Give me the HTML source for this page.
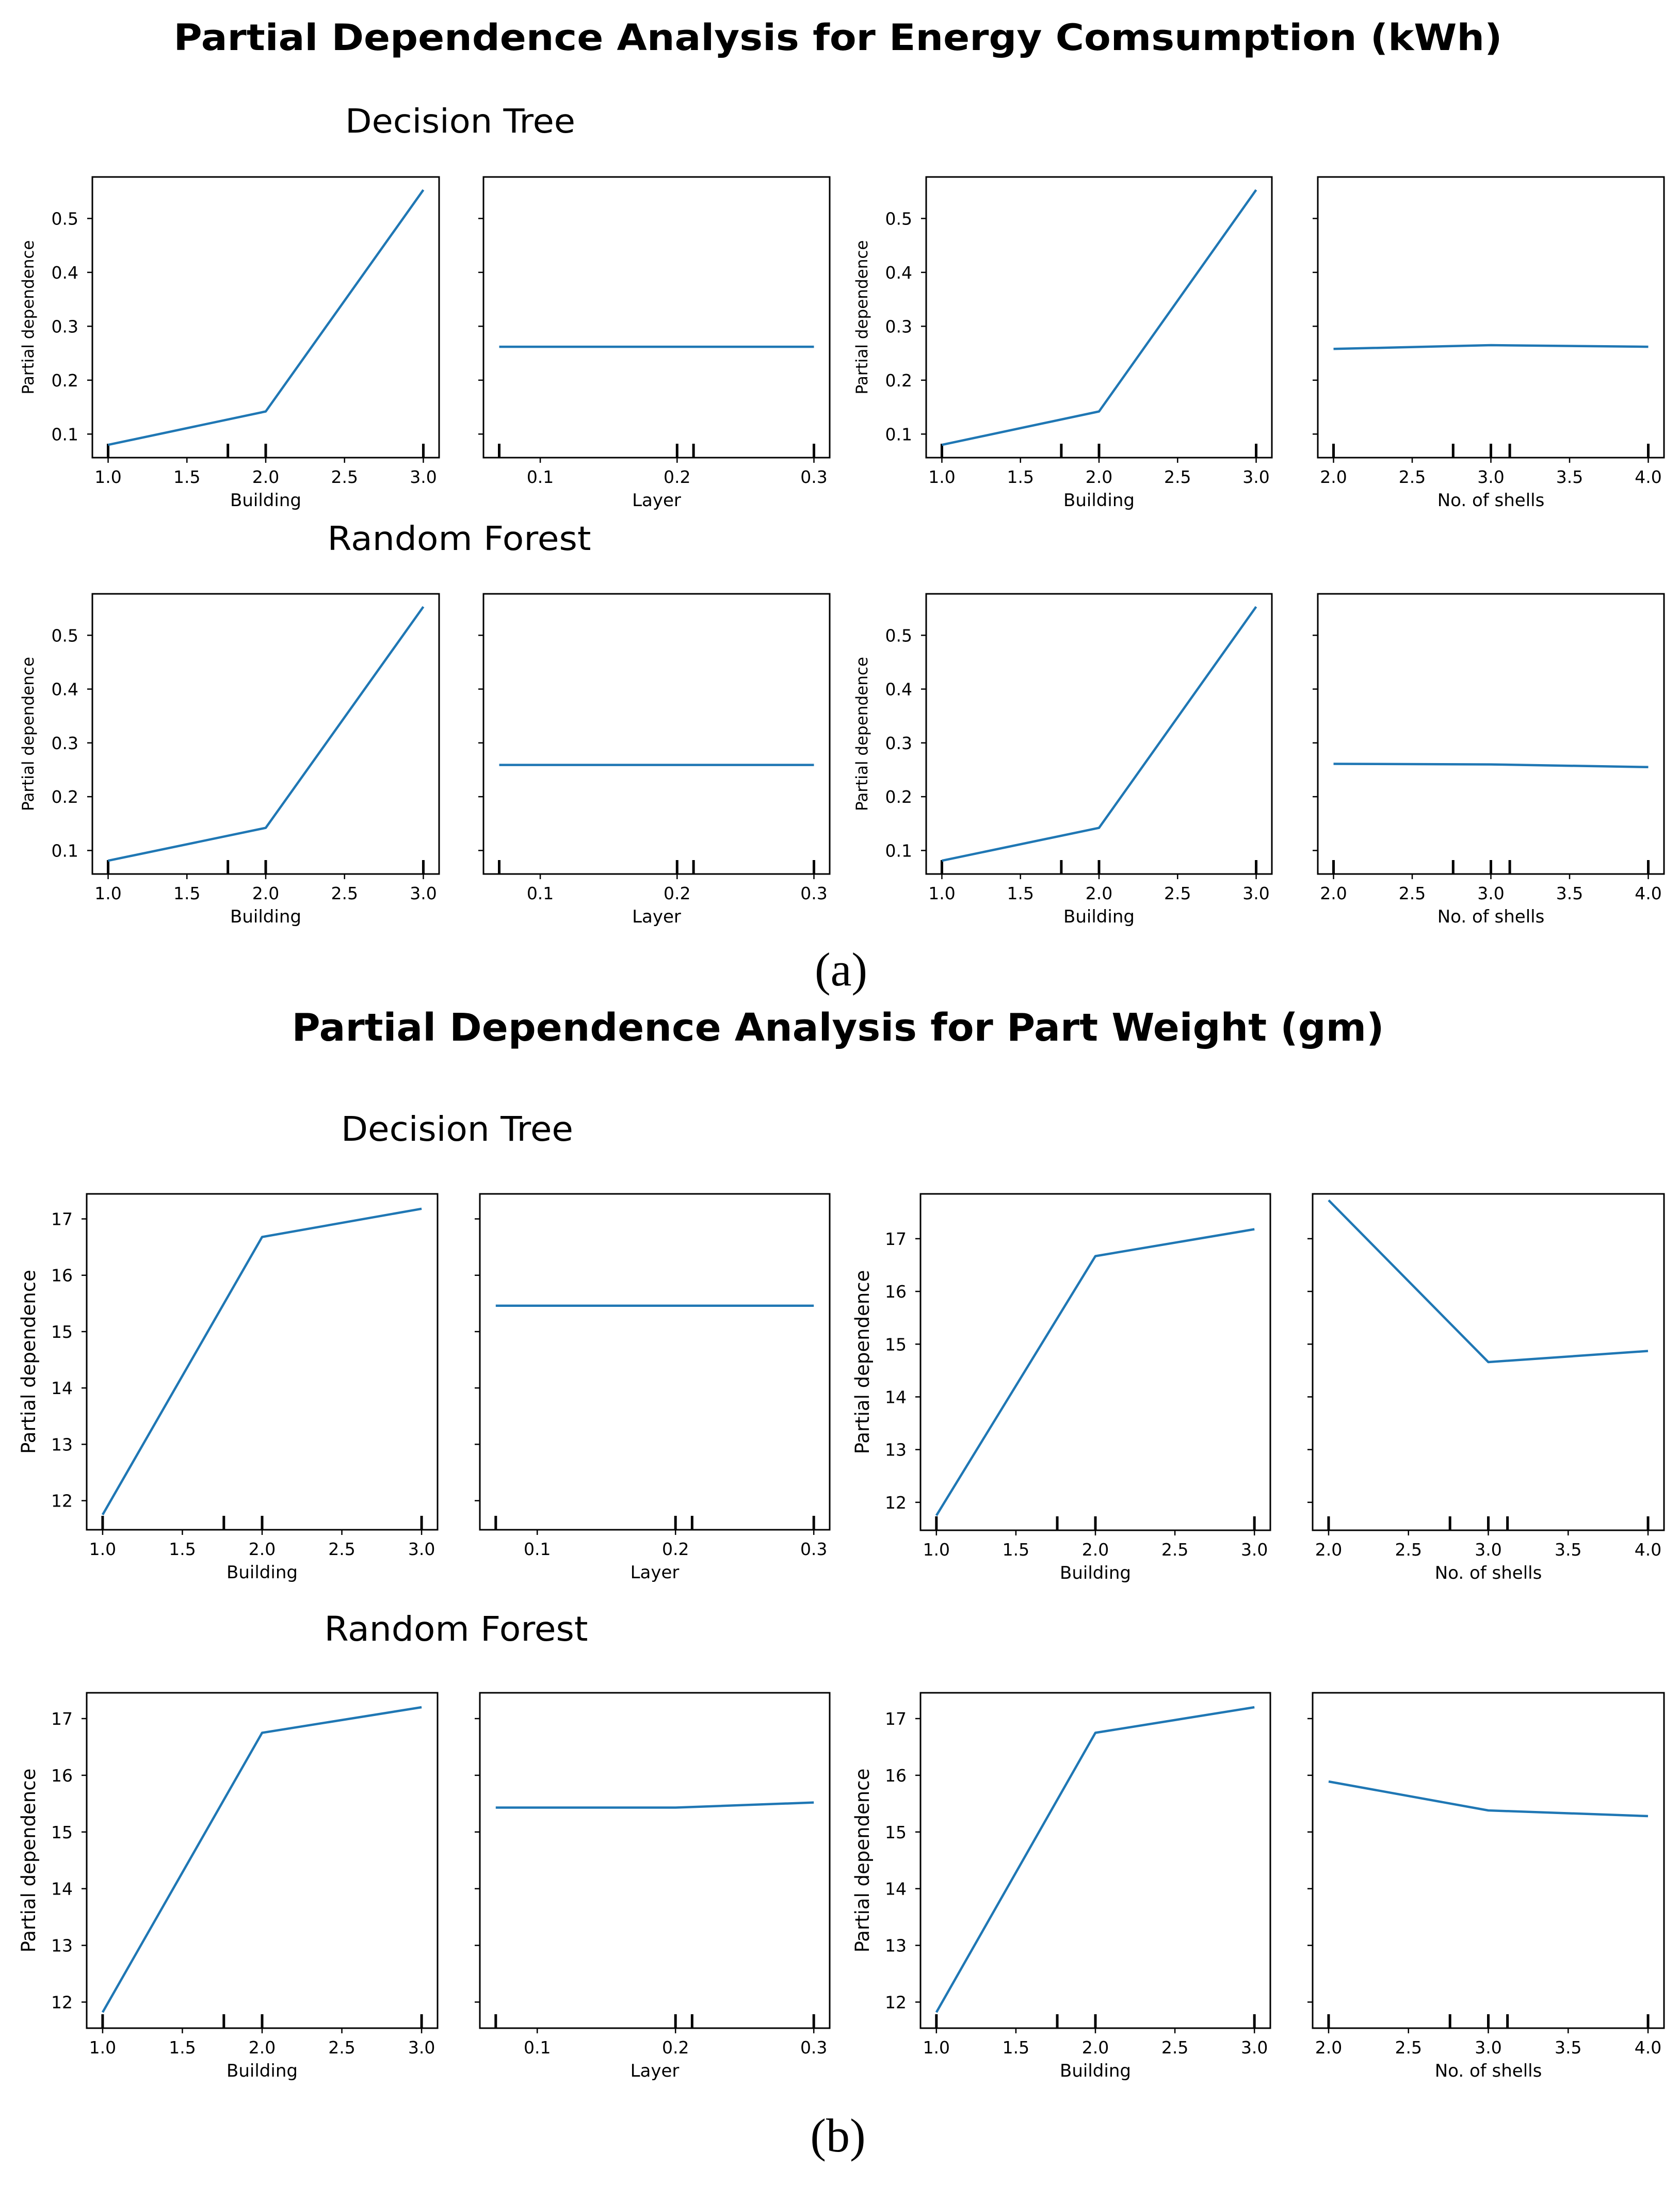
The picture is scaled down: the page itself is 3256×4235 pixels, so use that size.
<!DOCTYPE html>
<html><head><meta charset="utf-8"><style>
html,body{margin:0;padding:0;background:#fff;}
svg{display:block;}
text{font-family:"DejaVu Sans","Liberation Sans",sans-serif;fill:#000;}
</style></head><body>
<svg id="fig" width="3256" height="4235" viewBox="0 0 3256 4235" xmlns="http://www.w3.org/2000/svg">
<rect width="3256" height="4235" fill="#fff"/>
<text x="1624" y="97" font-size="70" font-weight="bold" text-anchor="middle" textLength="2575" lengthAdjust="spacingAndGlyphs">Partial Dependence Analysis for Energy Comsumption (kWh)</text>
<text x="892" y="257" font-size="64" text-anchor="middle" textLength="446" lengthAdjust="spacingAndGlyphs">Decision Tree</text>
<text x="890" y="1066" font-size="64" text-anchor="middle" textLength="511" lengthAdjust="spacingAndGlyphs">Random Forest</text>
<text x="1630" y="1910" font-size="92" text-anchor="middle" style="font-family:'Liberation Serif',serif">(a)</text>
<text x="1624" y="2017" font-size="74" font-weight="bold" text-anchor="middle" textLength="2117" lengthAdjust="spacingAndGlyphs">Partial Dependence Analysis for Part Weight (gm)</text>
<text x="886" y="2211" font-size="66" text-anchor="middle" textLength="450" lengthAdjust="spacingAndGlyphs">Decision Tree</text>
<text x="884" y="3180" font-size="66" text-anchor="middle" textLength="511" lengthAdjust="spacingAndGlyphs">Random Forest</text>
<text x="1624" y="4170" font-size="92" text-anchor="middle" style="font-family:'Liberation Serif',serif">(b)</text>
<g id="plots"></g>
</svg>
<script>
// ---- data ----
const buildingGrid = [1, 2, 3];
const layerGrid = [0.07, 0.2, 0.3];
const shellsGrid = [2, 3, 4];
const buildingDeciles = [1, 1.76, 2, 3];
const layerDeciles = [0.07, 0.2, 0.212, 0.3];
const shellsDeciles = [2, 2.76, 3, 3.12, 4];
const buildingTicks = [1, 1.5, 2, 2.5, 3];
const buildingTickLabels = ["1.0","1.5","2.0","2.5","3.0"];
const layerTicks = [0.1, 0.2, 0.3];
const layerTickLabels = ["0.1","0.2","0.3"];
const shellsTicks = [2, 2.5, 3, 3.5, 4];
const shellsTickLabels = ["2.0","2.5","3.0","3.5","4.0"];
const energyTicks = [0.1, 0.2, 0.3, 0.4, 0.5];
const energyTickLabels = ["0.1","0.2","0.3","0.4","0.5"];
const weightTicks = [12, 13, 14, 15, 16, 17];
const weightTickLabels = ["12","13","14","15","16","17"];

const energyDtBuilding = [0.080, 0.142, 0.553];
const energyDtLayer = [0.262, 0.262, 0.262];
const energyDtBuilding2 = [0.080, 0.142, 0.553];
const energyDtShells = [0.258, 0.265, 0.262];
const energyRfBuilding = [0.081, 0.142, 0.553];
const energyRfLayer = [0.259, 0.259, 0.259];
const energyRfBuilding2 = [0.081, 0.142, 0.553];
const energyRfShells = [0.261, 0.260, 0.255];

const weightDtBuilding = [11.75, 16.68, 17.18];
const weightDtLayer = [15.46, 15.46, 15.46];
const weightDtBuilding2 = [11.75, 16.67, 17.18];
const weightDtShells = [17.73, 14.66, 14.87];
const weightRfBuilding = [11.82, 16.75, 17.2];
const weightRfLayer = [15.43, 15.43, 15.52];
const weightRfBuilding2 = [11.82, 16.75, 17.2];
const weightRfShells = [15.89, 15.38, 15.28];

// ---- layout ----
const NS = "http://www.w3.org/2000/svg";
const root = document.getElementById("plots");
function el(tag, attrs, parent){const e=document.createElementNS(NS,tag);for(const k in attrs)e.setAttribute(k,attrs[k]);(parent||root).appendChild(e);return e;}

const feat = {
  building:{grid:buildingGrid,dec:buildingDeciles,ticks:buildingTicks,labels:buildingTickLabels,lim:[0.9,3.1],name:"Building"},
  layer:{grid:layerGrid,dec:layerDeciles,ticks:layerTicks,labels:layerTickLabels,lim:[0.0585,0.3115],name:"Layer"},
  shells:{grid:shellsGrid,dec:shellsDeciles,ticks:shellsTicks,labels:shellsTickLabels,lim:[1.9,4.1],name:"No. of shells"}
};

const panels = [
 {x0:179,x1:851,y0:343,y1:887,f:"building",v:energyDtBuilding,yl:[0.0563,0.577],yt:energyTicks,ytl:energyTickLabels,show:true,ylfs:31,ylo:114,n:"energy-dt-building"},
 {x0:937,x1:1608,y0:343,y1:887,f:"layer",v:energyDtLayer,yl:[0.0563,0.577],yt:energyTicks,ytl:energyTickLabels,show:false,n:"energy-dt-layer"},
 {x0:1795,x1:2465,y0:343,y1:887,f:"building",v:energyDtBuilding2,yl:[0.0563,0.577],yt:energyTicks,ytl:energyTickLabels,show:true,ylfs:31,ylo:114,n:"energy-dt-building-2"},
 {x0:2554,x1:3225,y0:343,y1:887,f:"shells",v:energyDtShells,yl:[0.0563,0.577],yt:energyTicks,ytl:energyTickLabels,show:false,n:"energy-dt-shells"},
 {x0:179,x1:851,y0:1151,y1:1694,f:"building",v:energyRfBuilding,yl:[0.0563,0.577],yt:energyTicks,ytl:energyTickLabels,show:true,ylfs:31,ylo:114,n:"energy-rf-building"},
 {x0:937,x1:1608,y0:1151,y1:1694,f:"layer",v:energyRfLayer,yl:[0.0563,0.577],yt:energyTicks,ytl:energyTickLabels,show:false,n:"energy-rf-layer"},
 {x0:1795,x1:2465,y0:1151,y1:1694,f:"building",v:energyRfBuilding2,yl:[0.0563,0.577],yt:energyTicks,ytl:energyTickLabels,show:true,ylfs:31,ylo:114,n:"energy-rf-building-2"},
 {x0:2554,x1:3225,y0:1151,y1:1694,f:"shells",v:energyRfShells,yl:[0.0563,0.577],yt:energyTicks,ytl:energyTickLabels,show:false,n:"energy-rf-shells"},
 {x0:168,x1:848,y0:2314,y1:2965,f:"building",v:weightDtBuilding,yl:[11.484,17.444],yt:weightTicks,ytl:weightTickLabels,show:true,ylfs:37,ylo:100,n:"weight-dt-building"},
 {x0:930,x1:1608,y0:2314,y1:2965,f:"layer",v:weightDtLayer,yl:[11.484,17.444],yt:weightTicks,ytl:weightTickLabels,show:false,n:"weight-dt-layer"},
 {x0:1784,x1:2462,y0:2314,y1:2966,f:"building",v:weightDtBuilding2,yl:[11.47,17.85],yt:weightTicks,ytl:weightTickLabels,show:true,ylfs:37,ylo:100,n:"weight-dt-building-2"},
 {x0:2544,x1:3225,y0:2314,y1:2966,f:"shells",v:weightDtShells,yl:[11.47,17.85],yt:weightTicks,ytl:weightTickLabels,show:false,n:"weight-dt-shells"},
 {x0:168,x1:848,y0:3281,y1:3931,f:"building",v:weightRfBuilding,yl:[11.54,17.455],yt:weightTicks,ytl:weightTickLabels,show:true,ylfs:37,ylo:100,n:"weight-rf-building"},
 {x0:930,x1:1608,y0:3281,y1:3931,f:"layer",v:weightRfLayer,yl:[11.54,17.455],yt:weightTicks,ytl:weightTickLabels,show:false,n:"weight-rf-layer"},
 {x0:1784,x1:2462,y0:3281,y1:3931,f:"building",v:weightRfBuilding2,yl:[11.54,17.455],yt:weightTicks,ytl:weightTickLabels,show:true,ylfs:37,ylo:100,n:"weight-rf-building-2"},
 {x0:2544,x1:3225,y0:3281,y1:3931,f:"shells",v:weightRfShells,yl:[11.54,17.455],yt:weightTicks,ytl:weightTickLabels,show:false,n:"weight-rf-shells"}
];

panels.forEach(p=>{
  const F = feat[p.f];
  const g = el("g",{});
  
  
  const xs = v => p.x0 + (v - F.lim[0])/(F.lim[1]-F.lim[0])*(p.x1-p.x0);
  const ys = v => p.y1 - (v - p.yl[0])/(p.yl[1]-p.yl[0])*(p.y1-p.y0);
  F.dec.forEach(d=>{
    const l = el("line",{x1:xs(d),x2:xs(d),y1:p.y1,y2:p.y1-27,stroke:"#000","stroke-width":5},g);
    
    
  });
  const pts = F.grid.map((x,i)=>xs(x).toFixed(1)+","+ys(p.v[i]).toFixed(1)).join(" ");
  const pl = el("polyline",{points:pts,fill:"none",stroke:"#1f77b4","stroke-width":4.5,"stroke-linejoin":"round"},g);
  
  
  const fr = el("rect",{x:p.x0,y:p.y0,width:p.x1-p.x0,height:p.y1-p.y0,fill:"none",stroke:"#000","stroke-width":3},g);
  
  
  F.ticks.forEach((t,i)=>{
    const X = xs(t);
    el("line",{x1:X,x2:X,y1:p.y1,y2:p.y1+10,stroke:"#000","stroke-width":2.5},g);
    const tx = el("text",{x:X,y:p.y1+49,"font-size":33,"text-anchor":"middle"},g);
    tx.textContent = F.labels[i];
    
    
  });
  const xl = el("text",{x:(p.x0+p.x1)/2,y:p.y1+94,"font-size":34,"text-anchor":"middle"},g);
  xl.textContent = F.name;
  
  
  p.yt.forEach((t,i)=>{
    const Y = ys(t);
    el("line",{x1:p.x0,x2:p.x0-10,y1:Y,y2:Y,stroke:"#000","stroke-width":2.5},g);
    if(p.show){
      const ty = el("text",{x:p.x0-27,y:Y+12,"font-size":33,"text-anchor":"end"},g);
      ty.textContent = p.ytl[i];
      
      
    }
  });
  if(p.show){
    const cy=(p.y0+p.y1)/2, cx=p.x0-p.ylo;
    const yl = el("text",{x:cx,y:cy,"font-size":p.ylfs,"text-anchor":"middle",transform:`rotate(-90 ${cx} ${cy})`},g);
    yl.textContent = "Partial dependence";
    
    
  }
});
</script>
</body></html>
